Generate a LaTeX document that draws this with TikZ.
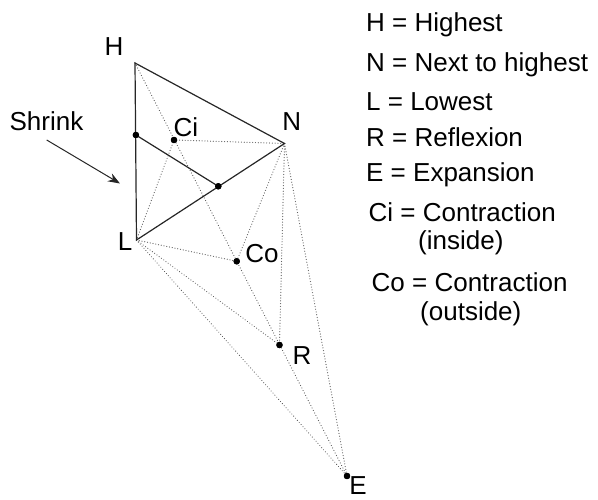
\documentclass[tikz,border=0pt]{standalone}
\usepackage{fontspec}
\setmainfont{Liberation Sans}
\usetikzlibrary{arrows.meta}
\begin{document}
\begin{tikzpicture}[x=1pt,y=-1pt,
  solidline/.style={line width=1.2pt, black!85},
  dotline/.style={black!62, line width=1.2pt, line cap=round, dash pattern=on 0.01pt off 2.8pt},
  ptdot/.style={circle, fill=black, inner sep=0pt, minimum size=6.4pt},
  lbl/.style={font=\fontsize{26}{30}\selectfont, inner sep=0pt},
  legend/.style={font=\fontsize{26}{30}\selectfont, inner sep=0pt, anchor=base west}]
\useasboundingbox (0,0) rectangle (598,500);

% vertices of the simplex
\coordinate (H) at (135,63);
\coordinate (N) at (284.5,143.5);
\coordinate (L) at (136.5,240);

% trial points
\node[ptdot] (Hs) at (135.9,135) {};
\node[ptdot] (Ns) at (218.3,186.3) {};
\node[ptdot] (Ci) at (174,140) {};
\node[ptdot] (Co) at (236.7,261.3) {};
\node[ptdot] (R)  at (279.5,345) {};
\node[ptdot] (E)  at (347,476) {};

% dotted construction lines
\draw[dotline] (H) -- (E.center);
\draw[dotline] (Ci.center) -- (N);
\draw[dotline] (L) -- (Ci.center);
\draw[dotline] (L) -- (Co.center);
\draw[dotline] (L) -- (R.center);
\draw[dotline] (L) -- (E.center);
\draw[dotline] (N) -- (Co.center);
\draw[dotline] (N) -- (R.center);
\draw[dotline] (N) -- (E.center);

% solid triangle and shrunk edge
\draw[solidline, line join=miter] (H) -- (N) -- (L) -- cycle;
\draw[solidline] (Hs.center) -- (Ns.center);

% redraw dots on top
\foreach \p in {Hs,Ns,Ci,Co,R,E} \fill (\p.center) circle (3.2pt);

% point labels
\node[lbl] (lH)  at (114,46.7) {H};
\node[lbl] (lN)  at (291.7,121.7) {N};
\node[lbl] (lL)  at (125,242) {L};
\node[lbl] (lCi) at (186,127) {Ci};
\node[lbl] (lCo) at (262,254) {Co};
\node[lbl] (lR)  at (302,356) {R};
\node[lbl] (lE)  at (358,486) {E};

% shrink arrow
\node[lbl] (shr) at (46.5,121) {Shrink};
\coordinate (a1) at (46.7,140);
\coordinate (a2) at (120,183.5);
\draw[-{Stealth[length=12pt,width=9pt]}, line width=1pt, black!85] (a1) -- (a2);

% legend
\node[legend] (g1) at (366,31.7)  {H = Highest};
\node[legend] (g2) at (366,71.7)  {N = Next to highest};
\node[legend] (g3) at (366,110.5) {L = Lowest};
\node[legend] (g4) at (366,146.7) {R = Reflexion};
\node[legend] (g5) at (366,181.7) {E = Expansion};
\node[legend] (g6) at (368.5,221.7) {Ci = Contraction};
\node[legend] (g7) at (418,250)   {(inside)};
\node[legend] (g8) at (371.5,291.7) {Co = Contraction};
\node[legend] (g9) at (420,320)   {(outside)};
\end{tikzpicture}
\end{document}
